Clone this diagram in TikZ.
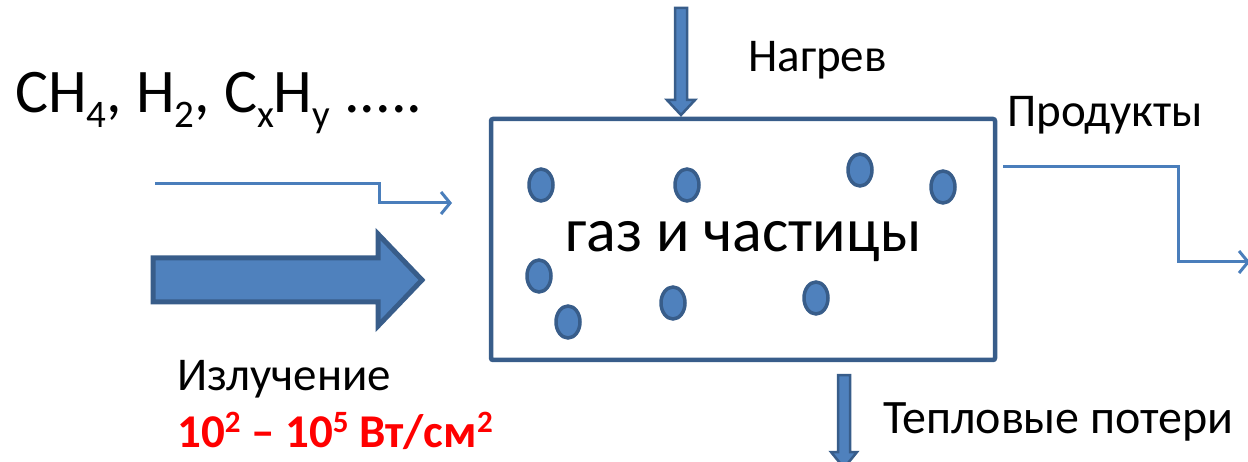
\documentclass[tikz,border=0pt]{standalone}
\usepackage{fontspec}
\setmainfont{Carlito}
\usetikzlibrary{arrows.meta,shapes.geometric}
\definecolor{accfill}{HTML}{4F81BD}
\definecolor{accline}{HTML}{385D8A}
\definecolor{flowline}{HTML}{4A7EBB}
\newcommand\lowidx[1]{\raisebox{-15pt}{\fontsize{39}{39}\selectfont #1}}
\newcommand\upidx[1]{\raisebox{15pt}{\fontsize{31}{31}\selectfont #1}}
\tikzset{
  label text/.style={anchor=base west, inner sep=0pt, font=\fontsize{47}{51}\selectfont},
  big text/.style={anchor=base west, inner sep=0pt, font=\fontsize{62}{66}\selectfont},
  particle/.style={ellipse, draw=accline, fill=accfill, line width=3.5pt,
    minimum width=24pt, minimum height=32pt, inner sep=0pt},
  block arrow/.style={draw=accline, fill=accfill, line join=miter},
  flow/.style={draw=flowline, line width=3pt, -{Straight Barb[length=9pt,width=22pt,line width=3pt]}},
}
\begin{document}
\begin{tikzpicture}[x=1pt,y=-1pt]
  \useasboundingbox (0,0) rectangle (1248,462);
  \clip (0,0) rectangle (1248,462);

  % reactor vessel
  \node[draw=accline, line width=4.5pt, rounded corners=2pt,
        minimum width=504pt, minimum height=241pt, inner sep=0pt] (reactor) at (743,239.5) {};
  \node[big text] (content) at (565,252) {газ и частицы};

  % particles suspended in the gas
  \node[particle] (p1) at (541,185) {};
  \node[particle] (p2) at (687,185) {};
  \node[particle] (p3) at (860,170) {};
  \node[particle] (p4) at (943,187) {};
  \node[particle] (p5) at (539,276) {};
  \node[particle] (p6) at (568,322) {};
  \node[particle] (p7) at (673,303) {};
  \node[particle] (p8) at (816,298) {};

  % feed gases
  \node[big text] (gases) at (15,113) {CH\lowidx{4}, H\lowidx{2}, C\lowidx{x}H\lowidx{y} .....};
  \coordinate (feed) at (155,184);
  \coordinate (feedend) at (452,203);
  \draw[flow] (feed) -- (379,184) -- (379,203) -- (feedend);

  % radiation input
  \draw[block arrow, line width=5pt]
    (153,258) -- (378,258) -- (378,234) -- (422,280) -- (378,326) -- (378,302) -- (153,302) -- cycle;
  \node[label text] (rad) at (177,390) {Излучение};
  \node[label text, text=red, font=\fontsize{47}{51}\selectfont\bfseries] (flux) at (177,447)
    {10\upidx{2} – 10\upidx{5} Вт/см\upidx{2}};

  % heating from above
  \draw[block arrow, line width=2.5pt]
    (675,8) -- (687,8) -- (687,100) -- (695,100) -- (681,115) -- (667,100) -- (675,100) -- cycle;
  \node[label text] (heat) at (748,72) {Нагрев};

  % heat losses below
  \draw[block arrow, line width=2.5pt]
    (838,375) -- (850,375) -- (850,452) -- (857,452) -- (844,468) -- (831,452) -- (838,452) -- cycle;
  \node[label text, font=\fontsize{48}{52}\selectfont] (loss) at (883,433) {Тепловые потери};

  % products outlet
  \node[label text] (prod) at (1007,127) {Продукты};
  \coordinate (out) at (1003,167);
  \coordinate (outend) at (1250,262);
  \draw[flow] (out) -- (1178,167) -- (1178,262) -- (outend);
\end{tikzpicture}
\end{document}
